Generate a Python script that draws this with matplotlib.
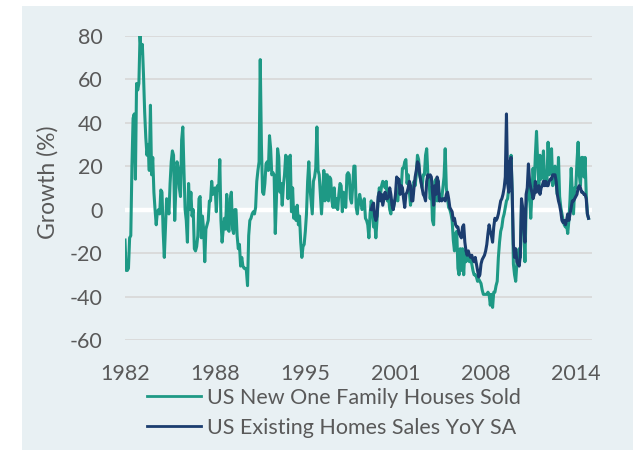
import matplotlib
matplotlib.use("Agg")
import matplotlib.pyplot as plt
from matplotlib.patches import Rectangle
import numpy as np

# ---------------------------------------------------------------------------
# Data: monthly YoY growth (%), Jan 1982 - Jun 2015 (one row per year)
# ---------------------------------------------------------------------------
start_year = 1982

new_home_sales = [
    -14, -28, -28, -27, -13, -12, 20, 42, 44, 14, 58, 55,      # 1982
    58, 80, 72, 76, 62, 45, 33, 25, 30, 18, 48, 16,            # 1983
    24, 8, 0, -7, -1, 0, -2, 9, 8, -10, -22, -8,               # 1984
    5, 2, -2, 12, 22, 27, 25, -5, 10, 22, 19, 10,              # 1985
    6, 32, 38, 18, 0, -5, -15, 12, 0, 8, -3, 0,                # 1986
    -18, -19, -17, -12, 5, 6, -13, -3, -9, -24, -9, -7,        # 1987
    -5, 4, 4, 13, 7, 8, 10, -1, 11, 9, 23, -5,                 # 1988
    -15, -9, -4, -9, 7, -9, -10, 5, 8, -9, -11, 0,             # 1989
    0, -12, -18, -16, -26, -22, -26, -27, -27, -28, -35, -12,  # 1990
    -5, -4, -2, -1, -2, 1, 13, 18, 22, 69, 30, 8,              # 1991
    7, 12, 21, 22, 18, 34, 28, 16, 17, 16, -11, 5,             # 1992
    28, 24, 8, 12, 2, 11, 16, 25, 24, 5, 24, 25,               # 1993
    -1, 10, -4, 1, -5, 2, -7, -3, -15, -22, -17, -16,          # 1994
    -10, -2, 13, 22, 10, 4, -2, 13, 15, 19, 38, 18,            # 1995
    16, 7, -2, 8, 18, 4, 16, 16, 4, 15, 14, 4,                 # 1996
    1, 10, 1, 5, 0, 7, 12, 11, -1, 8, 2, 1,                    # 1997
    16, 17, 16, 5, 3, 11, 20, 20, 1, -2, 3, 7,                 # 1998
    4, 0, 1, 5, -4, -5, -7, -13, -2, 4, 0, -8,                 # 1999
    -5, -13, -5, 4, 10, 7, 11, 13, 12, 10, 13, 4,              # 2000
    6, 0, -2, 4, 0, 3, 5, 6, 4, 11, 13, 10,                    # 2001
    19, 19, 22, 23, 12, 16, 8, 2, 7, 7, 13, 11,                # 2002
    16, 25, 23, 16, 13, 10, 16, 16, 25, 28, 16, 13,            # 2003
    5, 10, -5, -7, 13, 14, 4, 13, 4, 7, 5, 10,                 # 2004
    15, 28, 10, 5, 1, 0, -2, -5, -14, -19, -11, -10,           # 2005
    -27, -30, -18, -28, -18, -30, -19, -24, -21, -22, -24, -22,  # 2006
    -25, -28, -30, -30, -31, -33, -32, -33, -34, -37, -39, -39,  # 2007
    -39, -39, -38, -39, -44, -39, -45, -38, -38, -35, -33, -22,  # 2008
    -15, -10, -8, -4, -2, 1, 4, 5, 10, 13, 25, 7,              # 2009
    -25, -30, -33, -25, -21, -18, -22, 2, -4, -8, -24, 1,      # 2010
    7, 11, 7, -4, 8, 19, 11, 25, 36, 22, 11, 25,               # 2011
    14, 19, 27, 13, 17, 13, 31, 16, 20, 28, 11, 16,            # 2012
    20, 12, 7, 24, 6, 1, -2, -5, -7, -8, -7, -11,              # 2013
    -5, 5, 19, 7, -2, 10, 10, 22, 31, 16, 11, 24,              # 2014
    24, 15, 24, 7, -2, -4,                                     # 2015
]

existing_home_sales = [None] * (12 * 17 + 9) + [
    0, 2, 3,                                                   # 1999
    -3, -5, -3, 6, 8, 4, 7, 2, 5, 8, 5, 5,                     # 2000
    6, 10, 7, 2, 0, 3, 7, 15, 14, 14, 7, 11,                   # 2001
    10, 5, 1, 7, 8, 10, 13, 11, 4, 4, 10, 15,                  # 2002
    18, 22, 21, 16, 13, 10, 7, 6, 4, 13, 16, 15,               # 2003
    16, 15, 8, 2, 11, 7, 15, 13, 4, 5, 4, 5,                   # 2004
    5, 4, 7, 8, 5, 1, 0, -1, -5, -4, -7, -8,                   # 2005
    -8, -11, -12, -13, -8, -7, -15, -19, -21, -19, -21, -22,   # 2006
    -21, -23, -24, -22, -25, -28, -31, -30, -25, -23, -22, -21,  # 2007
    -19, -16, -11, -7, -10, -12, -15, -8, -4, -5, -4, -2,      # 2008
    1, 4, 5, 7, 10, 15, 44, 12, 8, 22, 24, 7,                  # 2009
    -16, -22, -18, -24, -25, -26, -21, 5, 1, -8, -15, 7,       # 2010
    10, 21, 13, 10, 8, 5, 7, 13, 8, 10, 11, 7,                 # 2011
    10, 11, 13, 11, 13, 11, 11, 13, 14, 14, 16, 16,            # 2012
    16, 13, 7, 4, 2, -1, -5, -6, -5, -7, -5, -2,               # 2013
    -5, -2, 1, 4, 4, 5, 6, 7, 10, 11, 10, 8,                   # 2014
    8, 7, 7, 5, -2, -4,                                        # 2015
]

series_labels = ["US New One Family Houses Sold", "US Existing Homes Sales YoY SA"]
y_ticks = [-60, -40, -20, 0, 20, 40, 60, 80]
x_tick_step = 78  # Excel category axis label interval (months)

# ---------------------------------------------------------------------------
# Style
# ---------------------------------------------------------------------------
TEAL = "#1E9985"
NAVY = "#1B3D6F"
TEXT = "#595959"
GRID = "#D9D9D9"
PANEL = "#E8F0F3"
FONT = "Lato"

plt.rcParams.update({
    "font.family": FONT,
    "font.size": 15.5,
})

fig = plt.figure(figsize=(6.37, 4.50), dpi=100, facecolor="white")
fig.patches.append(Rectangle((22 / 637, 0), 611 / 637, 444 / 450,
                             transform=fig.transFigure, facecolor=PANEL,
                             edgecolor="none", zorder=-10))

ax = fig.add_axes([125 / 637, 110 / 450, 467 / 637, 304.3 / 450])
ax.set_facecolor("none")
ax.set_zorder(2)

months = np.arange(len(new_home_sales))
teal = np.array(new_home_sales, dtype=float)
navy = np.array([np.nan if v is None else v for v in existing_home_sales], dtype=float)

for y in y_ticks:
    if y != 0:
        ax.axhline(y, color=GRID, linewidth=1.3, zorder=1)
ax.axhline(0, color="white", linewidth=3.2, zorder=1)

ax.plot(months, teal, color=TEAL, linewidth=2.2, zorder=3, solid_joinstyle="round")
ax.plot(months, navy, color=NAVY, linewidth=2.2, zorder=4, solid_joinstyle="round")

ax.set_xlim(0, 404)
ax.set_ylim(-60, 80)
ax.set_yticks(y_ticks)
ax.set_yticklabels([str(v) for v in y_ticks])
xt = np.arange(0, len(months), x_tick_step)
ax.set_xticks(xt)
ax.set_xticklabels([str(start_year + m // 12) for m in xt])
ax.tick_params(axis="both", length=0, colors=TEXT, labelsize=15.5)
ax.tick_params(axis="x", pad=17)
ax.tick_params(axis="y", pad=16)
for s in ax.spines.values():
    s.set_visible(False)

fig.text(48 / 637, 1 - 182 / 450, "Growth (%)", rotation=90, ha="center",
         va="center", color=TEXT, fontsize=16.5)

h1 = plt.Line2D([], [], color=TEAL, linewidth=2.0)
h2 = plt.Line2D([], [], color=NAVY, linewidth=2.0)
leg = fig.legend([h1, h2], series_labels, loc="upper left",
                 bbox_to_anchor=(147 / 637, 1 - 388 / 450),
                 frameon=False, borderpad=0, borderaxespad=0,
                 handlelength=2.5, handletextpad=0.28, labelspacing=0.45,
                 fontsize=15.5)
for t in leg.get_texts():
    t.set_color(TEXT)

plt.savefig("out.png", dpi=100, facecolor="white")
plt.close()
